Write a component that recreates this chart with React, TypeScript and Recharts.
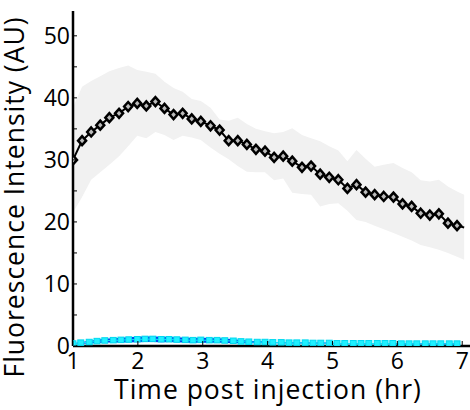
import React from 'react';
import { ComposedChart, Line, Area, XAxis, YAxis, Label } from 'recharts';

// black series (with grey spread band)
const times = [
  1.0, 1.14, 1.28, 1.42, 1.56, 1.71, 1.85, 1.99, 2.13, 2.27, 2.41, 2.55, 2.69, 2.83, 2.97,
  3.12, 3.26, 3.4, 3.54, 3.68, 3.82, 3.96, 4.1, 4.24, 4.38, 4.53, 4.67, 4.81, 4.95, 5.09,
  5.23, 5.37, 5.51, 5.65, 5.79, 5.94, 6.08, 6.22, 6.36, 6.5, 6.64, 6.78, 6.92, 7.03,
];
const meanValues = [
  30.0, 33.1, 34.5, 35.6, 36.8, 37.5, 38.6, 39.1, 38.7, 39.4, 38.3, 37.3, 37.5, 36.6, 36.2,
  35.5, 34.8, 33.1, 33.1, 32.5, 31.7, 31.4, 30.4, 30.6, 29.8, 28.8, 29.0, 27.7, 27.2, 26.8,
  25.4, 26.0, 24.8, 24.4, 24.1, 24.0, 22.9, 22.5, 21.4, 21.1, 21.3, 19.8, 19.4, 19.1,
];
const upperValues = [
  38.5, 41.8, 42.7, 43.5, 44.3, 44.8, 45.2, 44.5, 44.2, 43.9, 42.6, 41.6, 41.0, 39.8, 39.5,
  38.4, 36.5, 36.3, 36.8, 35.8, 35.0, 34.6, 34.3, 34.5, 35.1, 34.0, 33.5, 33.0, 32.2, 31.5,
  29.8, 31.6, 30.2, 28.9, 29.2, 29.5, 28.7, 28.0, 26.7, 26.5, 26.8, 25.7, 24.9, 24.4,
];
const lowerValues = [
  21.5, 24.0, 26.8, 28.0, 29.2, 30.6, 32.2, 33.9, 33.5, 34.5, 34.0, 33.2, 33.9, 33.6, 33.2,
  32.0, 31.0, 30.1, 29.0, 28.1, 28.0, 28.0, 26.7, 27.0, 24.7, 24.5, 24.4, 22.5, 22.9, 23.0,
  21.8, 20.3, 20.0, 19.4, 18.8, 18.2, 17.6, 17.0, 16.3, 15.9, 15.5, 15.0, 14.4, 13.9,
];

// cyan series near zero (with blue spread)
const cyanTimes = [
  1.0, 1.12, 1.25, 1.37, 1.49, 1.62, 1.74, 1.86, 1.99, 2.11, 2.23, 2.36, 2.48, 2.6, 2.73,
  2.85, 2.97, 3.1, 3.22, 3.34, 3.47, 3.59, 3.71, 3.84, 3.96, 4.08, 4.21, 4.33, 4.45, 4.58,
  4.7, 4.82, 4.95, 5.07, 5.19, 5.32, 5.44, 5.56, 5.69, 5.81, 5.93, 6.06, 6.18, 6.3, 6.43,
  6.55, 6.67, 6.8, 6.92,
];
const cyanValues = [
  0.35, 0.5, 0.6, 0.75, 0.85, 0.9, 0.95, 1.0, 1.05, 1.1, 1.1, 1.05, 1.05, 1.0, 0.95,
  0.9, 0.95, 0.9, 0.9, 0.85, 0.8, 0.7, 0.65, 0.6, 0.6, 0.55, 0.55, 0.5, 0.5, 0.5,
  0.45, 0.45, 0.45, 0.4, 0.4, 0.4, 0.4, 0.4, 0.4, 0.4, 0.4, 0.35, 0.35, 0.35, 0.35,
  0.35, 0.35, 0.35, 0.35,
];
const cyanSpread = [
  0.1, 0.15, 0.2, 0.25, 0.3, 0.35, 0.4, 0.4, 0.45, 0.45, 0.45, 0.45, 0.4, 0.4, 0.4,
  0.4, 0.4, 0.4, 0.35, 0.35, 0.3, 0.25, 0.2, 0.15, 0.15, 0.1, 0.1, 0.1, 0.1, 0.1,
  0.1, 0.1, 0.1, 0.1, 0.1, 0.1, 0.1, 0.1, 0.1, 0.1, 0.1, 0.1, 0.1, 0.1, 0.1,
  0.1, 0.1, 0.1, 0.1,
];

const xTicks = [1, 2, 3, 4, 5, 6, 7];
const yTicks = [0, 5, 10, 15, 20, 25, 30, 35, 40, 45, 50];

const mainData = times.map((t, i) => ({
  t,
  mean: meanValues[i],
  band: [lowerValues[i], upperValues[i]],
}));
const cyanData = cyanTimes.map((t, i) => ({
  t,
  value: cyanValues[i],
  band: [cyanValues[i] - cyanSpread[i], cyanValues[i] + cyanSpread[i]],
}));

const FONT = '"Open Sans", sans-serif';

const YTick = (props: any) => {
  const { x, y, payload } = props;
  const major = payload.value % 10 === 0;
  return (
    <g>
      <line x1={x + 3} x2={x + 7} y1={y} y2={y} stroke="#000" strokeWidth={1} />
      {major && (
        <text x={x} y={y} dy="0.36em" textAnchor="end" fontSize={23} fontFamily={FONT} fill="#000">
          {payload.value}
        </text>
      )}
    </g>
  );
};

const XTick = (props: any) => {
  const { x, y, payload } = props;
  return (
    <g>
      <line x1={x} x2={x} y1={y - 1} y2={y - 5} stroke="#000" strokeWidth={1} />
      <text x={x} y={y + 23} textAnchor="middle" fontSize={23} fontFamily={FONT} fill="#000">
        {payload.value}
      </text>
    </g>
  );
};

const Diamond = (props: any) => {
  const { cx, cy, index } = props;
  if (index === times.length - 1 || cx == null) return <g key={`d${index}`} />;
  return (
    <polygon
      key={`d${index}`}
      points={`${cx},${cy - 4.5} ${cx + 4},${cy} ${cx},${cy + 4.5} ${cx - 4},${cy}`}
      fill="#bbb"
      stroke="#000"
      strokeWidth={2.5}
    />
  );
};

const CyanSquare = (props: any) => {
  const { cx, cy, index } = props;
  if (cx == null) return <g key={`c${index}`} />;
  return (
    <rect key={`c${index}`} x={cx - 3} y={cy - 3} width={6} height={5.5} fill="#1ff0ff" stroke="#00d8f0" strokeWidth={1} />
  );
};

export default function App() {
  return (
    <div style={{ position: 'absolute', left: 0, top: 0, width: 470, height: 410, background: '#fff' }}>
      <ComposedChart width={470} height={410} data={mainData} margin={{ top: 11, right: 0, bottom: 0, left: 0 }}>
        <XAxis
          type="number"
          dataKey="t"
          domain={[1, 7.12]}
          ticks={xTicks}
          allowDataOverflow
          height={64}
          tickSize={0}
          tickMargin={0}
          tick={<XTick />}
          axisLine={{ stroke: '#000', strokeWidth: 2.5 }}
        >
          <Label
            content={() => (
              <text
                x={268}
                y={399}
                textAnchor="middle"
                fontSize={26.5}
                letterSpacing={1}
                fontFamily={FONT}
                fill="#000"
              >
                Time post injection (hr)
              </text>
            )}
          />
        </XAxis>
        <YAxis
          type="number"
          domain={[0, 54]}
          ticks={yTicks}
          allowDataOverflow
          width={73}
          tickSize={0}
          tickMargin={3}
          tick={<YTick />}
          axisLine={{ stroke: '#000', strokeWidth: 2.5 }}
        >
          <Label
            content={() => (
              <text
                x={24}
                y={197}
                transform="rotate(-90 24 197)"
                textAnchor="middle"
                fontSize={26.5}
                letterSpacing={1}
                fontFamily={FONT}
                fill="#000"
              >
                Fluorescence Intensity (AU)
              </text>
            )}
          />
        </YAxis>
        <Area dataKey="band" type="linear" stroke="none" fill="#f1f1f1" fillOpacity={1} isAnimationActive={false} />
        <Line dataKey="mean" type="linear" stroke="#000" strokeWidth={2} dot={<Diamond />} isAnimationActive={false} />
        <Area
          data={cyanData}
          dataKey="band"
          type="linear"
          stroke="none"
          fill="#0010ee"
          fillOpacity={1}
          isAnimationActive={false}
        />
        <Line
          data={cyanData}
          dataKey="value"
          type="linear"
          stroke="#1ff0ff"
          strokeWidth={1}
          dot={<CyanSquare />}
          isAnimationActive={false}
        />
      </ComposedChart>
    </div>
  );
}
